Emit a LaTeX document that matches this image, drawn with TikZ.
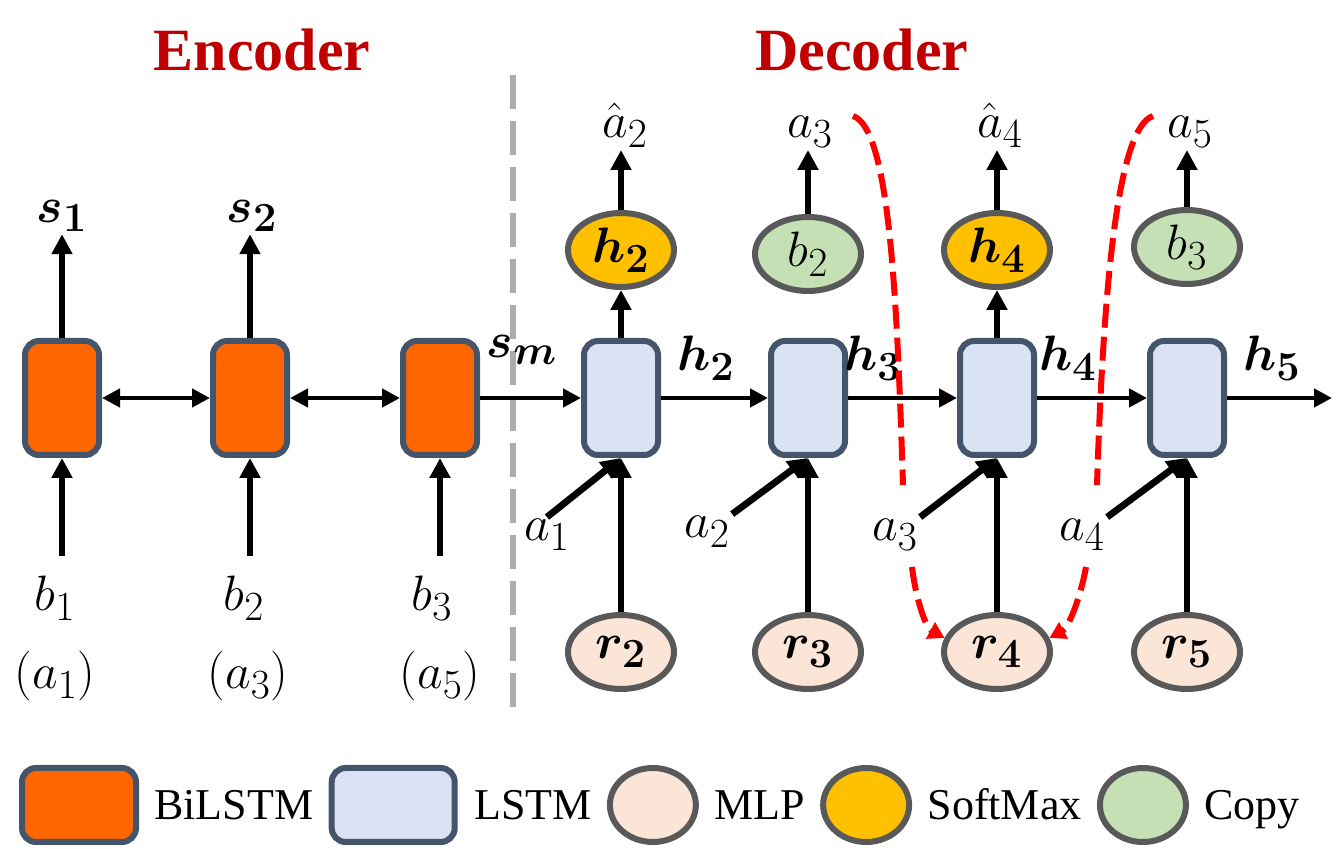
\documentclass[tikz,border=0pt]{standalone}
\usepackage{amsmath, amssymb}
\usepackage{bm}
\usepackage{fontspec}
\setmainfont{Liberation Serif}
\usetikzlibrary{arrows.meta, positioning, shapes.geometric}

\definecolor{bilstmfill}{HTML}{FF6600}
\definecolor{lstmfill}{HTML}{DAE3F3}
\definecolor{mlpfill}{HTML}{FBE5D6}
\definecolor{softfill}{HTML}{FFC000}
\definecolor{copyfill}{HTML}{C5E0B4}
\definecolor{boxline}{HTML}{44546A}
\definecolor{ellline}{HTML}{595959}
\definecolor{titlered}{HTML}{C00000}
\definecolor{divgray}{HTML}{AFABAB}

\tikzstyle{bilstm}=[rectangle, rounded corners=7pt, draw=boxline, fill=bilstmfill, line width=3pt, minimum width=37pt, minimum height=57pt]
\tikzstyle{lstm}=[bilstm, fill=lstmfill]
\tikzstyle{mlp}=[ellipse, draw=ellline, fill=mlpfill, line width=3pt, minimum width=53pt, minimum height=37pt, inner sep=1pt, font=\fontsize{28}{32}\selectfont]
\tikzstyle{softmax}=[mlp, fill=softfill]
\tikzstyle{copynode}=[mlp, fill=copyfill]
\tikzstyle{lbl}=[inner sep=1pt, font=\fontsize{28}{32}\selectfont]
\tikzstyle{inp}=[lbl, inner ysep=10pt]
\tikzstyle{title}=[text=titlered, font=\bfseries\fontsize{30}{36}\selectfont]
\tikzstyle{arr}=[line width=3pt, -{Triangle[length=10pt, width=10pt]}]
\tikzstyle{flow}=[line width=2.2pt, -{Triangle[length=9pt, width=9pt]}]
\tikzstyle{biflow}=[line width=2.2pt, {Triangle[length=9pt, width=9pt]}-{Triangle[length=9pt, width=9pt]}]
\tikzstyle{copyflow}=[red, line width=3pt, dash pattern=on 12pt off 4.5pt, -{Triangle[length=8pt, width=9pt]}]
\tikzstyle{keytext}=[inner sep=0pt, text height=14.6pt, text depth=0pt, font=\fontsize{22}{26}\selectfont]

\begin{document}
\begin{tikzpicture}[x=0.5pt, y=-0.5pt]
  \useasboundingbox (0,0) rectangle (1340,849);

  \node[title] (enc) at (262,50) {Encoder};
  \node[title] (dec) at (862,50) {Decoder};
  \draw[divgray, line width=3pt, dash pattern=on 17pt off 6pt] (513,75) -- (513,712);

  % encoder
  \node[bilstm] (e1) at (62,398) {};
  \node[bilstm] (e2) at (250,398) {};
  \node[bilstm] (e3) at (440,398) {};

  \node[lbl] (s1) at (62,216) {$\bm{s_1}$};
  \node[lbl] (s2) at (252,216) {$\bm{s_2}$};
  \node[inp] (b1) at (55,598) {$b_1$};
  \node[inp] (b2) at (244,598) {$b_2$};
  \node[inp] (b3) at (432,598) {$b_3$};
  \node[lbl] (p1) at (55,676) {$(a_1)$};
  \node[lbl] (p3) at (248,676) {$(a_3)$};
  \node[lbl] (p5) at (440,676) {$(a_5)$};

  \draw[arr] (e1.north) -- (e1.north |- s1.south);
  \draw[arr] (e2.north) -- (e2.north |- s2.south);
  \draw[arr] (e1.south |- b1.north) -- (e1.south);
  \draw[arr] (e2.south |- b2.north) -- (e2.south);
  \draw[arr] (e3.south |- b3.north) -- (e3.south);
  \draw[biflow] (e1) -- (e2);
  \draw[biflow] (e2) -- (e3);

  % decoder
  \node[lstm] (d2) at (621,398) {};
  \node[lstm] (d3) at (808,398) {};
  \node[lstm] (d4) at (997,398) {};
  \node[lstm] (d5) at (1187,398) {};

  \node[softmax] (o2) at (621,250) {$\bm{h_2}$};
  \node[copynode] (o3) at (808,254) {$b_2$};
  \node[softmax] (o4) at (997,250) {$\bm{h_4}$};
  \node[copynode] (o5) at (1187,247) {$b_3$};

  \node[mlp] (r2) at (621,652) {$\bm{r_2}$};
  \node[mlp] (r3) at (808,652) {$\bm{r_3}$};
  \node[mlp] (r4) at (997,652) {$\bm{r_4}$};
  \node[mlp] (r5) at (1187,652) {$\bm{r_5}$};

  \node[lbl, anchor=south] (y2) at (625,150) {$\hat{a}_2$};
  \node[lbl, anchor=south] (y3) at (810,150) {$a_3$};
  \node[lbl, anchor=south] (y4) at (1000,150) {$\hat{a}_4$};
  \node[lbl, anchor=south] (y5) at (1190,150) {$a_5$};

  \node[lbl] (sm) at (522,350) {$\bm{s_m}$};
  \node[lbl] (h2) at (706,358) {$\bm{h_2}$};
  \node[lbl] (h3) at (873,358) {$\bm{h_3}$};
  \node[lbl] (h4) at (1068,358) {$\bm{h_4}$};
  \node[lbl] (h5) at (1272,358) {$\bm{h_5}$};
  \coordinate (hout) at (1332,398);

  \node[lbl] (a1) at (547,535) {$a_1$};
  \node[lbl] (a2) at (707,532) {$a_2$};
  \node[lbl] (a3) at (895,535) {$a_3$};
  \node[lbl] (a4) at (1082,535) {$a_4$};

  \draw[flow] (e3) -- (d2);
  \draw[flow] (d2) -- (d3);
  \draw[flow] (d3) -- (d4);
  \draw[flow] (d4) -- (d5);
  \draw[flow] (d5) -- (hout);

  \draw[arr] (d2.north) -- (o2.south);
  \draw[arr] (d4.north) -- (o4.south);
  \draw[arr] (o2.north) -- (o2.north |- y2.south);
  \draw[arr] (o3.north) -- (o3.north |- y3.south);
  \draw[arr] (o4.north) -- (o4.north |- y4.south);
  \draw[arr] (o5.north) -- (o5.north |- y5.south);

  \draw[arr] (r2) -- (d2);
  \draw[arr] (r3) -- (d3);
  \draw[arr] (r4) -- (d4);
  \draw[arr] (r5) -- (d5);
  \draw[arr, line width=3.4pt] (a1.north) -- (d2.south);
  \draw[arr, line width=3.4pt] (a2.north east) -- (d3.south);
  \draw[arr, line width=3.4pt] (a3.north east) -- (d4.south);
  \draw[arr, line width=3.4pt] (a4.north east) -- (d5.south);

  % copy links
  \coordinate (c3top) at (853,116);
  \coordinate (c3mid) at (903,485);
  \coordinate (c3low) at (912,567);
  \coordinate (c5top) at (1153,116);
  \coordinate (c5mid) at (1097,485);
  \coordinate (c5low) at (1086,567);
  \draw[copyflow] (c3top) .. controls (890,128) and (897,300) .. (c3mid)
                  (c3low) .. controls (916,600) and (926,628) .. (r4.165);
  \draw[copyflow] (c5top) .. controls (1116,128) and (1103,300) .. (c5mid)
                  (c5low) .. controls (1080,600) and (1068,628) .. (r4.15);

  % legend
  \node[bilstm, minimum width=57pt, minimum height=37pt] (k1) at (79,805) {};
  \node[keytext, right=7.5pt of k1] (t1) {BiLSTM};
  \node[lstm, minimum width=61.5pt, minimum height=37pt, right=7.5pt of t1] (k2) {};
  \node[keytext, right=8pt of k2] (t2) {LSTM};
  \node[mlp, minimum width=43pt, minimum height=37pt, right=7.5pt of t2] (k3) {};
  \node[keytext, right=7.5pt of k3] (t3) {MLP};
  \node[softmax, minimum width=43pt, minimum height=37pt, right=7.5pt of t3] (k4) {};
  \node[keytext, right=7.5pt of k4] (t4) {SoftMax};
  \node[copynode, minimum width=43pt, minimum height=37pt, right=7.5pt of t4] (k5) {};
  \node[keytext, right=7.5pt of k5] (t5) {Copy};
\end{tikzpicture}
\end{document}
